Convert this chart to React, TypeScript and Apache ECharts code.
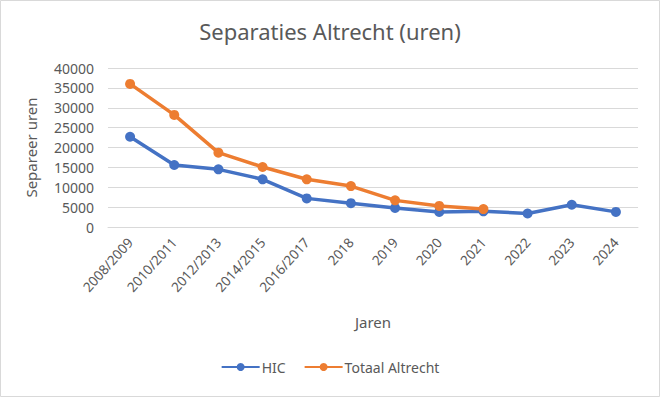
import React, { useEffect, useRef } from "react";
import * as echarts from "echarts";

const categories = ["2008/2009", "2010/2011", "2012/2013", "2014/2015", "2016/2017", "2018", "2019", "2020", "2021", "2022", "2023", "2024"];
const hicValues = [22700, 15600, 14500, 12000, 7200, 6000, 4800, 3800, 3950, 3400, 5600, 3800];
const totaalValues: (number | null)[] = [36000, 28200, 18700, 15100, 12000, 10300, 6700, 5300, 4500, null, null, null];
const yTicks = { min: 0, max: 40000, interval: 5000 };

const FONT = "'Noto Sans', sans-serif";
const GREY = "#595959";

export default function App() {
  const ref = useRef<HTMLDivElement>(null);
  useEffect(() => {
    if (!ref.current) return;
    const chart = echarts.init(ref.current, undefined, { renderer: "svg" });
    chart.setOption({
      animation: false,
      backgroundColor: "#ffffff",
      textStyle: { fontFamily: FONT },
      title: {
        text: "Separaties Altrecht (uren)",
        left: "center",
        top: 15,
        textStyle: { fontFamily: FONT, fontSize: 22, fontWeight: "normal", color: GREY },
      },
      graphic: [
        {
          type: "rect",
          shape: { x: 0.5, y: 0.5, width: 659, height: 396 },
          style: { fill: "none", stroke: "#d9d9d9", lineWidth: 1 },
          silent: true,
        },
      ],
      legend: {
        bottom: 18,
        left: "center",
        itemWidth: 38,
        itemHeight: 10,
        itemGap: 18,
        textStyle: { fontFamily: FONT, fontSize: 14, color: GREY, padding: [0, 0, 0, -3] },
        data: ["HIC", "Totaal Altrecht"],
      },
      grid: { left: 108, right: 22, top: 68, bottom: 170, containLabel: false },
      xAxis: {
        type: "category",
        data: categories,
        boundaryGap: true,
        name: "Jaren",
        nameLocation: "middle",
        nameGap: 87,
        nameTextStyle: { fontFamily: FONT, fontSize: 15, color: GREY },
        axisLine: { lineStyle: { color: "#d9d9d9" } },
        axisTick: { show: false },
        axisLabel: { rotate: 48, fontSize: 13.5, color: GREY, fontFamily: FONT, interval: 0, margin: 13 },
      },
      yAxis: {
        type: "value",
        min: yTicks.min,
        max: yTicks.max,
        interval: yTicks.interval,
        name: "Separeer uren",
        nameLocation: "middle",
        nameGap: 70,
        nameTextStyle: { fontFamily: FONT, fontSize: 15, color: GREY },
        axisLine: { show: false },
        axisTick: { show: false },
        axisLabel: {
          fontSize: 14,
          color: GREY,
          fontFamily: FONT,
          margin: 14,
          formatter: (v: number) => String(v),
        },
        splitLine: { lineStyle: { color: "#d9d9d9", width: 1 } },
      },
      series: [
        {
          name: "HIC",
          type: "line",
          data: hicValues,
          symbol: "circle",
          symbolSize: 10,
          itemStyle: { color: "#4472C4" },
          lineStyle: { color: "#4472C4", width: 3.5 },
        },
        {
          name: "Totaal Altrecht",
          type: "line",
          data: totaalValues,
          symbol: "circle",
          symbolSize: 10,
          itemStyle: { color: "#ED7D31" },
          lineStyle: { color: "#ED7D31", width: 3.5 },
        },
      ],
    });
    return () => chart.dispose();
  }, []);
  return (
    <div
      ref={ref}
      style={{ position: "fixed", left: 0, top: 0, width: 660, height: 397 }}
    />
  );
}
